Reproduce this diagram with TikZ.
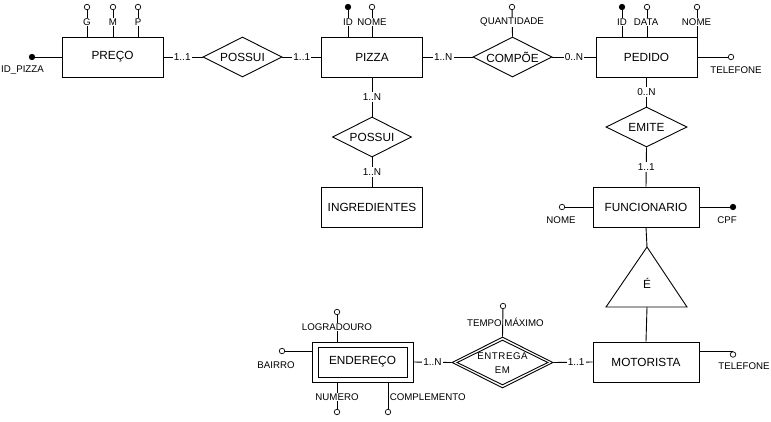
\documentclass[tikz,border=0pt]{standalone}
\usepackage{fontspec}
\setmainfont{Liberation Sans}
\usetikzlibrary{shapes.geometric}
\begin{document}
\begin{tikzpicture}[x=1pt,y=-1pt,
  every node/.style={font=\fontsize{9.7}{11}\selectfont, inner sep=0.5pt},
  conn/.style={line width=0.9pt},
  ent/.style={draw, line width=0.9pt, minimum width=101pt, minimum height=40pt, inner sep=0pt},
  big/.style={font=\fontsize{11.8}{13}\selectfont, inner sep=0pt},
  rel/.style={draw, diamond, line width=0.9pt, inner sep=0pt, minimum width=79pt, minimum height=40pt},
  attr/.style={circle, draw, line width=0.7pt, minimum size=5.5pt, inner sep=0pt, fill=white},
  keyattr/.style={attr, fill=black},
  lab/.style={fill=white, inner sep=0.6pt},
  card/.style={fill=white, inner sep=1.2pt, font=\fontsize{10}{11}\selectfont}]
\useasboundingbox (0,0) rectangle (771,421);
\fill[white] (0,0) rectangle (771,421);

% entities
\node[ent, big] (preco) at (112.5,57) {PREÇO};
\node[ent, big] (pizza) at (372,57) {PIZZA};
\node[ent, big] (pedido) at (646.5,57) {PEDIDO};
\node[ent, big] (ingr) at (372,207) {INGREDIENTES};
\node[ent, big, minimum width=106pt] (func) at (646,207) {FUNCIONARIO};
\node[ent, big, minimum width=106pt] (moto) at (646,362) {MOTORISTA};
\node[ent] (endo) at (362.5,362) {};
\node[ent, big, minimum width=89pt, minimum height=30pt] (endi) at (362.5,362) {ENDEREÇO};

% relationships
\node[rel] (poss1) at (242.5,57) {};
\node[big] (poss1t) at (poss1) {POSSUI};
\node[rel] (compoe) at (512.5,57) {};
\node[big] (compoet) at (compoe) {COMPÕE};
\node[rel] (poss2) at (372,137) {};
\node[big] (poss2t) at (poss2) {POSSUI};
\node[rel, minimum width=81pt] (emite) at (646.5,127) {};
\node[big] (emitet) at (emite) {EMITE};
\node[rel, minimum width=101pt, minimum height=51pt] (entr) at (502.5,362.5) {};
\node[rel, minimum width=91pt, minimum height=45pt] (entri) at (502.5,362.5) {};
\node[align=center, font=\fontsize{9.7}{14}\selectfont\addfontfeature{LetterSpace=6}] (entrt) at (502.5,363) {ENTREGA\\EM};

% specialization triangle
\coordinate (triA) at (647,247);
\coordinate (triL) at (606,307);
\coordinate (triR) at (687,307);
\coordinate (triB) at (647,307);
\draw[conn, line join=miter] (triA) -- (triL) -- (triR) -- cycle;
\node[big] (trit) at (647,283) {É};
\draw[conn] (func.south) -- (triA);
\draw[conn] (triB) -- (moto.north);

% relationship connectors
\draw[conn] (preco.east) -- (poss1.west) node[card, pos=0.48] (c1) {1..1};
\draw[conn] (poss1.east) -- (pizza.west) node[card, midway] (c2) {1..1};
\draw[conn] (pizza.east) -- (compoe.west) node[card, pos=0.41] (c3) {1..N};
\draw[conn] (compoe.east) -- (pedido.west) node[card, midway] (c4) {0..N};
\draw[conn] (pizza.south) -- (poss2.north) node[card, midway] (c5) {1..N};
\draw[conn] (poss2.south) -- (ingr.north) node[card, midway] (c6) {1..N};
\draw[conn] (pedido.south) -- (emite.north) node[card, midway] (c7) {0..N};
\draw[conn] (emite.south) -- (func.north) node[card, midway] (c8) {1..1};
\draw[conn] (endo.east) -- (entr.west) node[card, midway] (c9) {1..N};
\draw[conn] (entr.east) -- (moto.west) node[card, pos=0.58] (c10) {1..1};

% attribute circles
\node[attr] (ag) at (87,7) {};
\node[attr] (am) at (113,7) {};
\node[attr] (ap) at (138,7) {};
\node[keyattr] (aidp) at (32,57) {};
\node[keyattr] (apzid) at (348,7) {};
\node[attr] (apznome) at (372,7) {};
\node[attr] (aqt) at (512,7) {};
\node[keyattr] (apdid) at (622,7) {};
\node[attr] (apddata) at (647,7) {};
\node[attr] (apdnome) at (697,7) {};
\node[attr] (apdtel) at (731,57) {};
\node[attr] (afnome) at (562,207) {};
\node[keyattr] (afcpf) at (733,207) {};
\node[attr] (amtel) at (733,354.5) {};
\node[attr] (alog) at (337,312) {};
\node[attr] (abai) at (282,351) {};
\node[attr] (anum) at (337,412) {};
\node[attr] (acomp) at (388,412) {};
\node[attr] (atempo) at (503,306) {};

% attribute lines
\draw[conn] (ag) -- (ag |- preco.north);
\draw[conn] (am) -- (am |- preco.north);
\draw[conn] (ap) -- (ap |- preco.north);
\draw[conn] (aidp) -- (preco.west);
\draw[conn] (apzid) -- (apzid |- pizza.north);
\draw[conn] (apznome) -- (apznome |- pizza.north);
\draw[conn] (aqt) -- (compoe.north);
\draw[conn] (apdid) -- (apdid |- pedido.north);
\draw[conn] (apddata) -- (apddata |- pedido.north);
\draw[conn] (apdnome) -- (apdnome |- pedido.north);
\draw[conn] (apdtel) -- (pedido.east);
\draw[conn] (afnome) -- (func.west);
\draw[conn] (afcpf) -- (func.east);
\draw[conn] (amtel.north) -- (amtel.north -| moto.east);
\draw[conn] (alog) -- (alog |- endo.north);
\draw[conn] (abai) -- (abai -| endo.west);
\draw[conn] (anum) -- (anum |- endo.south);
\draw[conn] (acomp) -- (acomp |- endo.south);
\draw[conn] (atempo) -- (entr.north);

% attribute labels
\node[lab] (lg) at (87,22) {G};
\node[lab] (lm) at (113,22) {M};
\node[lab] (lp) at (138,22) {P};
\node[lab] (lidp) at (22.5,70.5) {ID\_PIZZA};
\node[lab] (lpzid) at (348,22) {ID};
\node[lab] (lpznome) at (372,22) {NOME};
\node[lab] (lqt) at (512,22) {QUANTIDADE};
\node[lab] (lpdid) at (622,22) {ID};
\node[lab] (lpddata) at (646,22) {DATA};
\node[lab] (lpdnome) at (696.5,22) {NOME};
\node[lab] (lpdtel) at (736,70) {TELEFONE};
\node[lab] (lfnome) at (561,220) {NOME};
\node[lab] (lfcpf) at (727,220) {CPF};
\node[lab] (lmtel) at (744,366) {TELEFONE};
\node[lab] (llog) at (337,327) {LOGRADOURO};
\node[lab] (lbai) at (276,365) {BAIRRO};
\node[lab] (lnum) at (337,397) {NUMERO};
\node[lab, anchor=west] (lcomp) at (389,397) {COMPLEMENTO};
\node[inner sep=0.5pt] (ltempo) at (505.5,322) {TEMPO MÁXIMO};
\end{tikzpicture}
\end{document}
